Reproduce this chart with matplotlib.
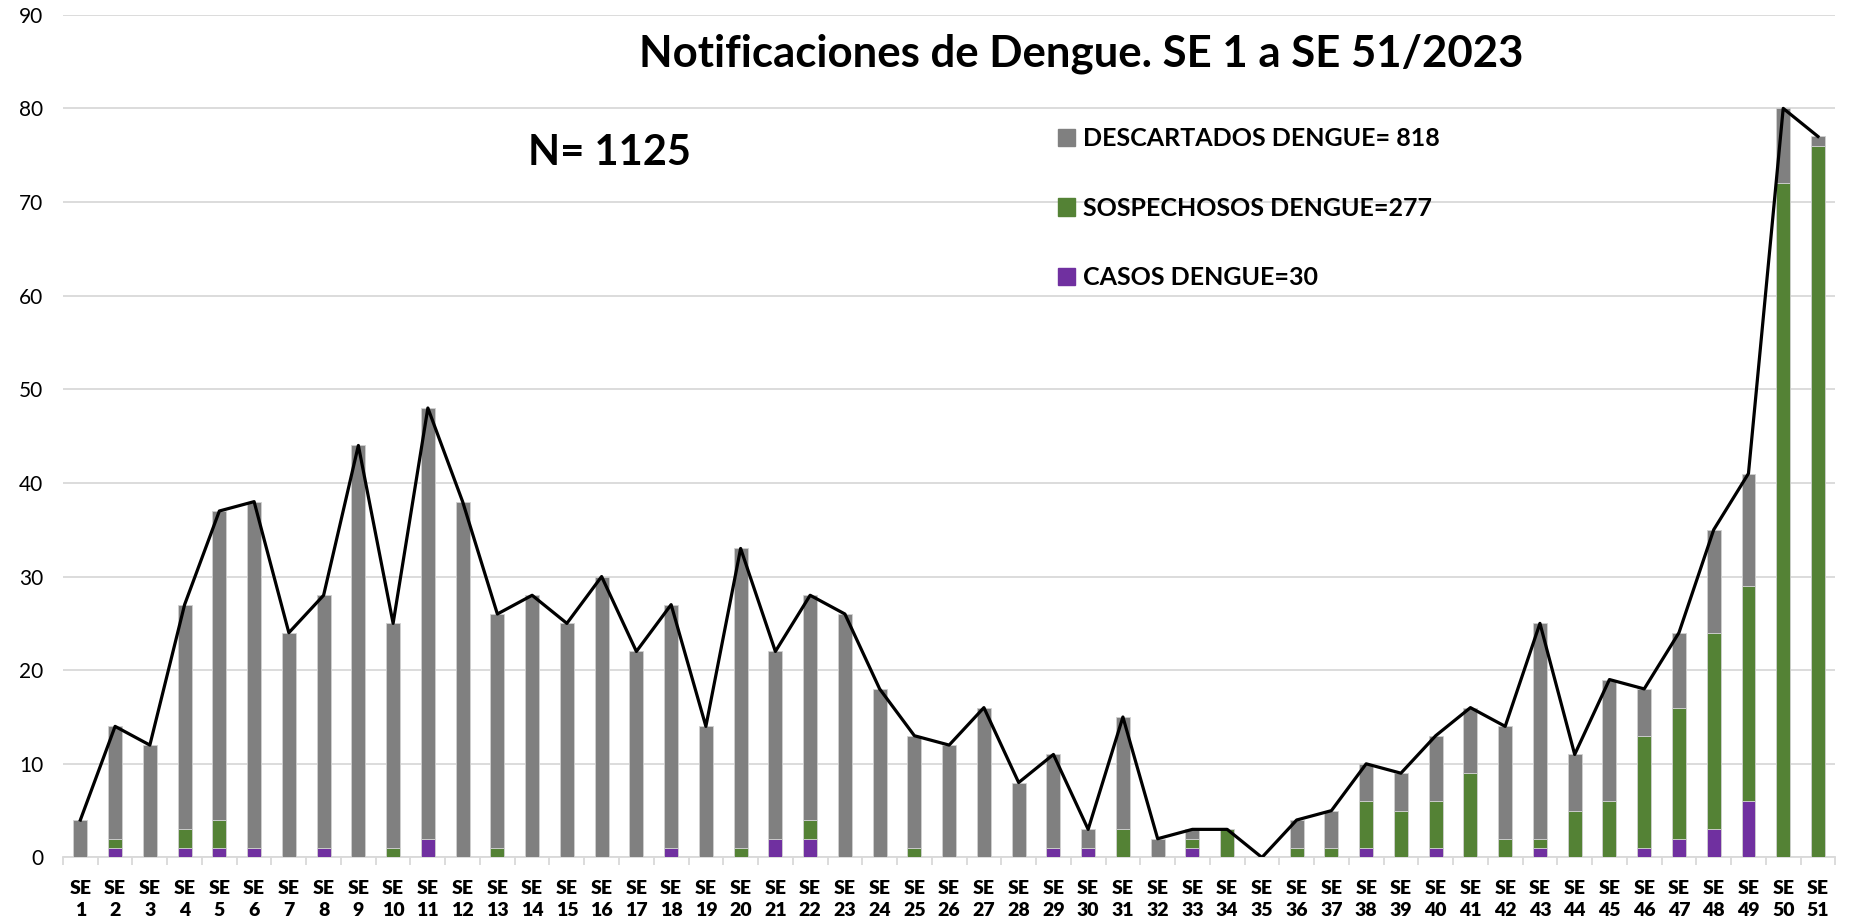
import matplotlib
matplotlib.use("Agg")
import matplotlib.pyplot as plt
import numpy as np
from matplotlib.patches import Patch

weeks = [f"SE\n{i}" for i in range(1, 52)]

casos = [0, 1, 0, 1, 1, 1, 0, 1, 0, 0, 2, 0, 0, 0, 0, 0, 0, 1, 0, 0,
         2, 2, 0, 0, 0, 0, 0, 0, 1, 1, 0, 0, 1, 0, 0, 0, 0, 1, 0, 1,
         0, 0, 1, 0, 0, 1, 2, 3, 6, 0, 0]
sospechosos = [0, 1, 0, 2, 3, 0, 0, 0, 0, 1, 0, 0, 1, 0, 0, 0, 0, 0, 0, 1,
               0, 2, 0, 0, 1, 0, 0, 0, 0, 0, 3, 0, 1, 3, 0, 1, 1, 5, 5, 5,
               9, 2, 1, 5, 6, 12, 14, 21, 23, 72, 76]
descartados = [4, 12, 12, 24, 33, 37, 24, 27, 44, 24, 46, 38, 25, 28, 25, 30, 22, 26, 14, 32,
               20, 24, 26, 18, 12, 12, 16, 8, 10, 2, 12, 2, 1, 0, 0, 3, 4, 4, 4, 7,
               7, 12, 23, 6, 13, 5, 8, 11, 12, 8, 1]
yticks = [0, 10, 20, 30, 40, 50, 60, 70, 80, 90]

title = "Notificaciones de Dengue. SE 1 a SE 51/2023"
labels = ["DESCARTADOS DENGUE= 818", "SOSPECHOSOS DENGUE=277", "CASOS DENGUE=30"]
n_text = "N= 1125"

c_gray = "#808080"
c_green = "#548235"
c_purple = "#7030A0"

plt.rcParams['font.family'] = ['Lato', 'DejaVu Sans']

fig = plt.figure(figsize=(18.52, 9.21), dpi=100)
ax = fig.add_axes([0.034, 0.069, 0.957, 0.915])

x = np.arange(len(weeks))
c = np.array(casos)
s = np.array(sospechosos)
d = np.array(descartados)
total = c + s + d

w = 0.40
ec = "#d0d0d0"
ax.bar(x, c, w, color=c_purple, edgecolor=ec, linewidth=0.6, zorder=3)
ax.bar(x, s, w, bottom=c, color=c_green, edgecolor=ec, linewidth=0.6, zorder=3)
ax.bar(x, d, w, bottom=c + s, color=c_gray, edgecolor=ec, linewidth=0.6, zorder=3)
ax.plot(x, total, color="black", linewidth=2.3, zorder=4)

ax.set_xlim(-0.5, len(weeks) - 0.5)
ax.set_ylim(0, 90)
ax.set_yticks(yticks)
ax.set_yticklabels([str(v) for v in yticks], fontsize=15)
ax.yaxis.grid(True, color="#d9d9d9", linewidth=1.3, zorder=0)
ax.set_axisbelow(True)
for sp in ["top", "right", "left"]:
    ax.spines[sp].set_visible(False)
ax.spines["bottom"].set_color("#d9d9d9")
ax.spines["bottom"].set_linewidth(1.3)
ax.tick_params(axis="y", length=0, pad=14, labelcolor="#000000")
ax.set_xticks(x)
ax.set_xticklabels(weeks, fontsize=14, fontweight="heavy", linespacing=1.38)
ax.set_xticks(np.arange(-0.5, len(weeks), 1), minor=True)
ax.tick_params(axis="x", which="major", length=0, pad=16)
ax.tick_params(axis="x", which="minor", length=6, color="#d9d9d9", width=1.3)

fig.text(0.584, 0.942, title, ha="center", va="center", fontsize=31.5, fontweight="bold")
fig.text(0.285, 0.834, n_text, ha="left", va="center", fontsize=30, fontweight="bold")

handles = [Patch(color=c_gray), Patch(color=c_green), Patch(color=c_purple)]
leg = fig.legend(handles, labels, loc="upper left", bbox_to_anchor=(0.559, 0.886),
                 frameon=False, prop={"weight": "bold", "size": 18},
                 handlelength=0.68, handleheight=0.68, handletextpad=0.32,
                 labelspacing=1.85)

fig.savefig("out.png", dpi=100)
